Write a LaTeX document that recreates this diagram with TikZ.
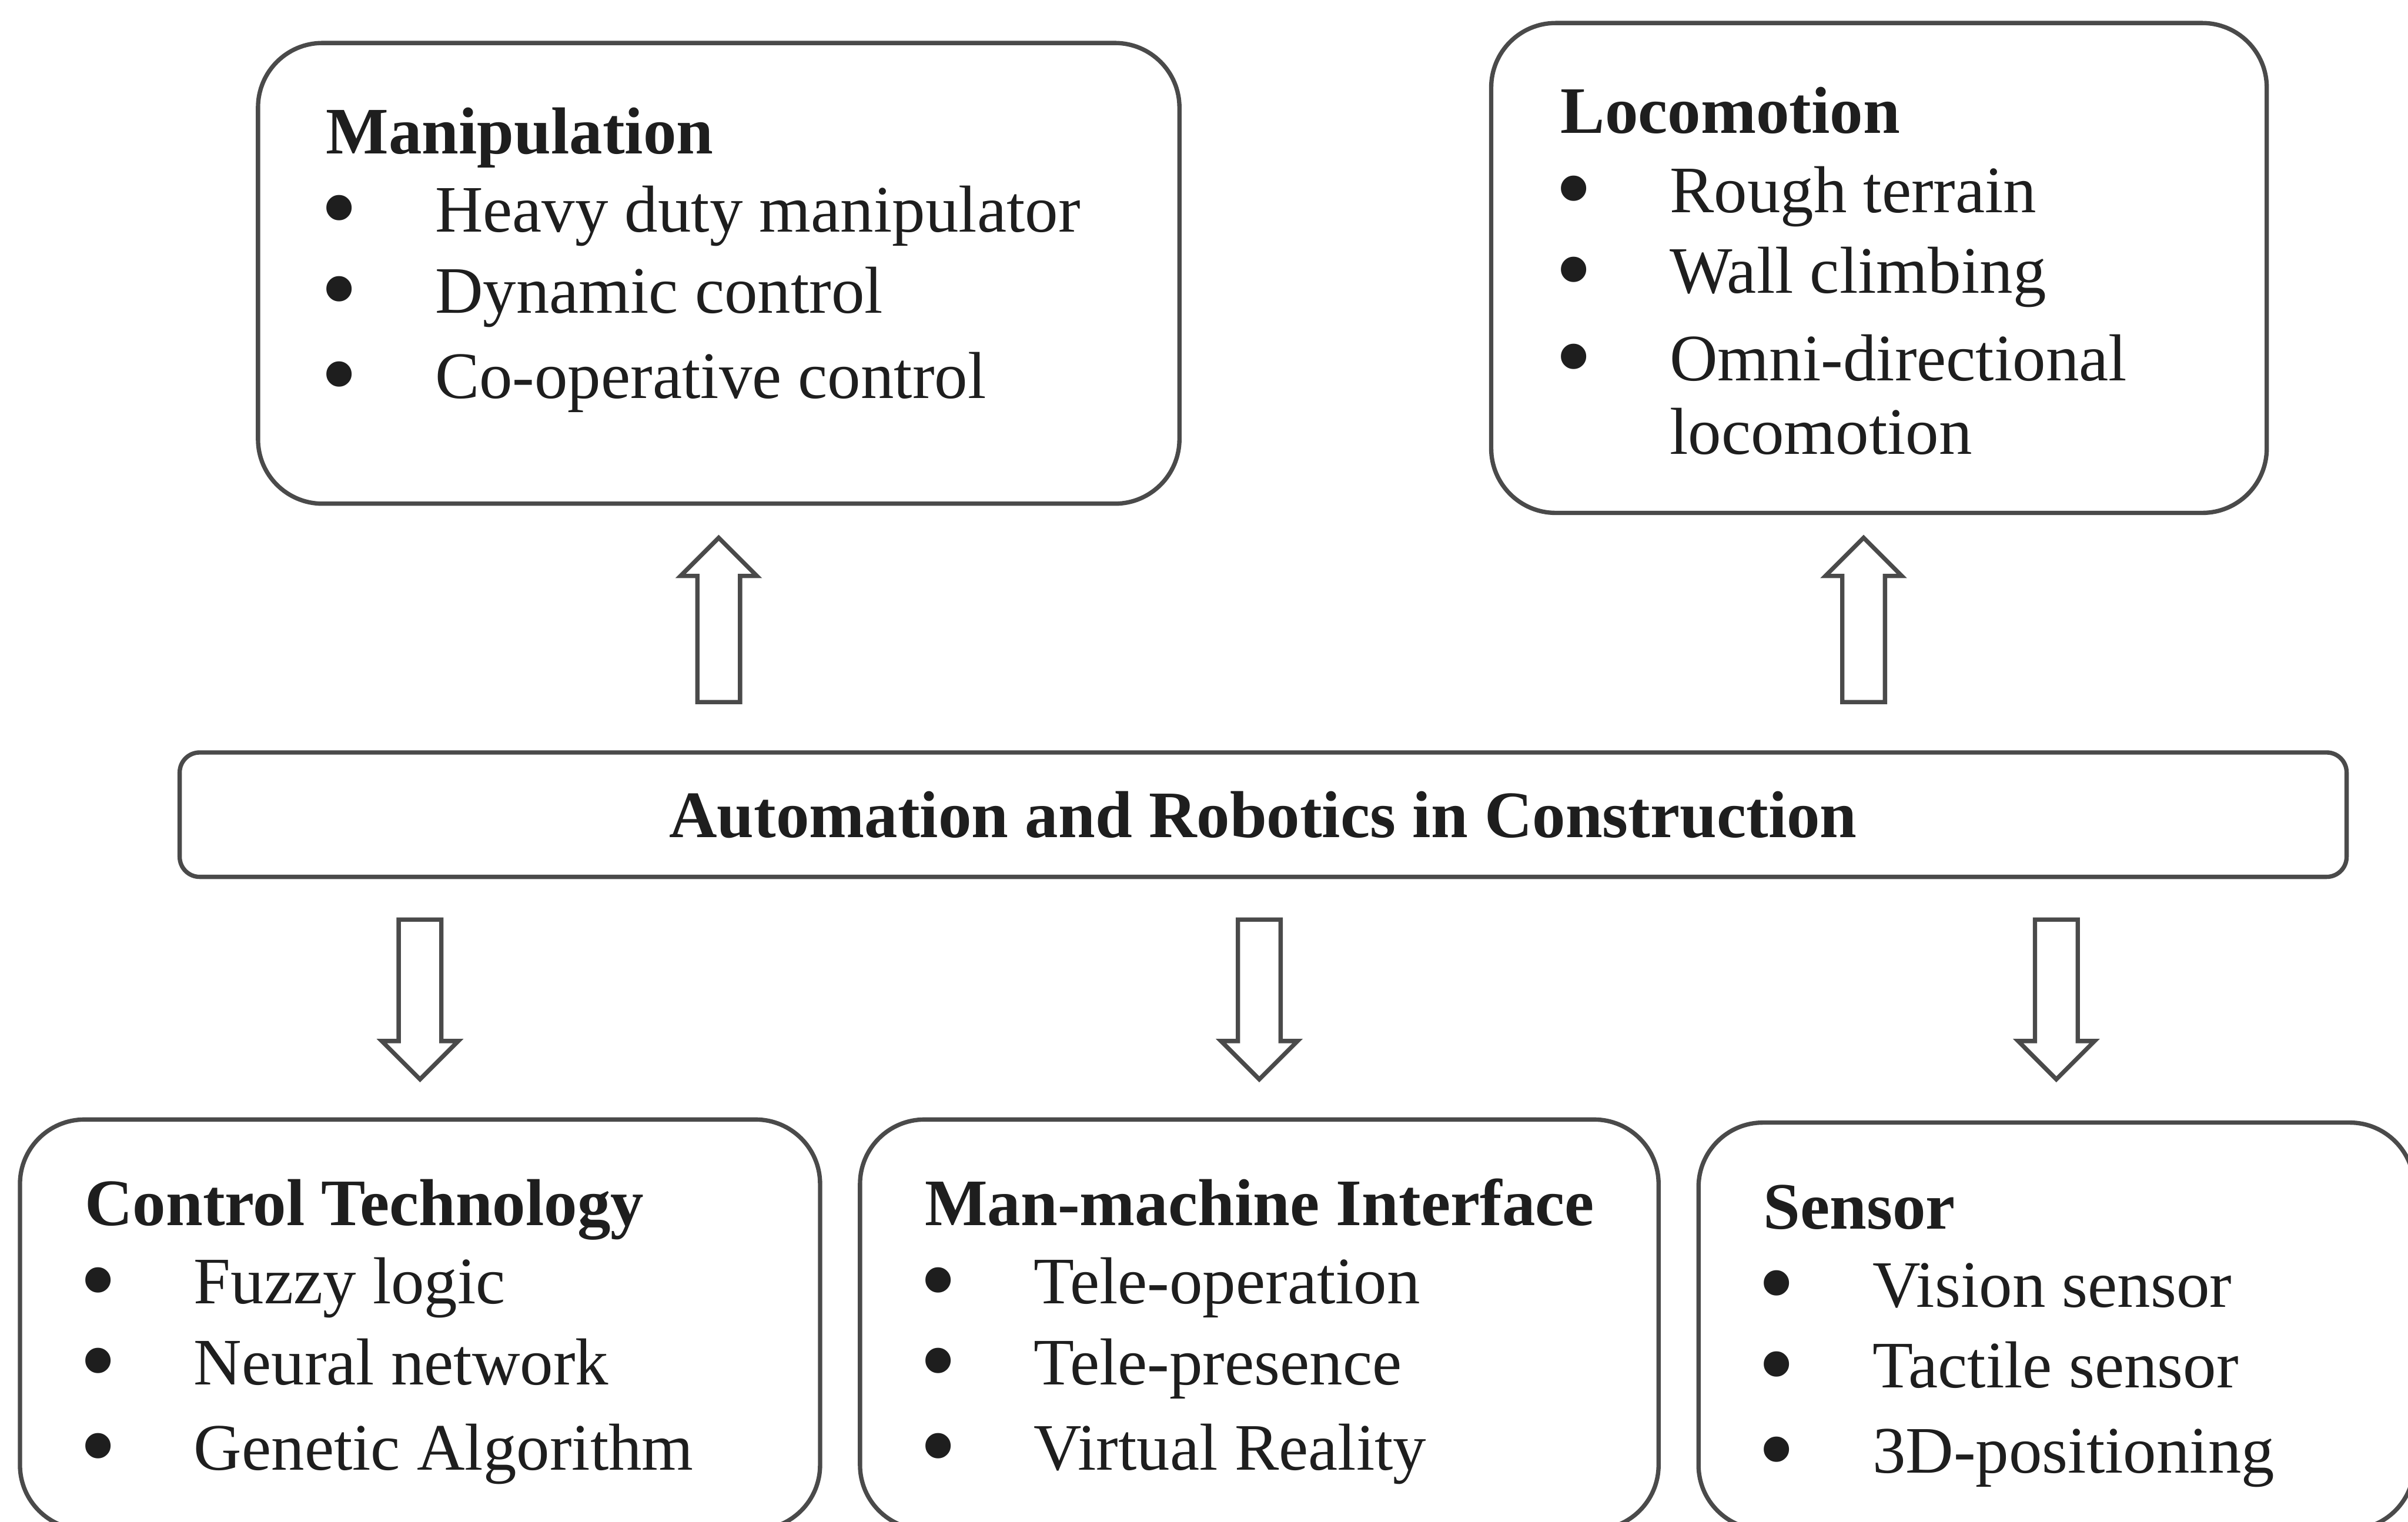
\documentclass[tikz,border=0pt]{standalone}
\usepackage{fontspec}
\setmainfont{Liberation Serif}
\usepackage{tikz}
\usetikzlibrary{positioning, calc, shapes.arrows}

\definecolor{boxline}{HTML}{4A4A4A}
\definecolor{txt}{HTML}{1E1E1E}

\newcommand{\bitem}[1]{\hspace*{-0.035cm}\makebox[0.745cm][l]{\raisebox{-0.17em}{\scalebox{1.6}{\textbullet}}}#1}

\tikzset{
  panel/.style={draw=boxline, line width=0.8pt, rounded corners=0.42cm, inner sep=0},
  listtext/.style={font=\fontsize{12.3}{15}\selectfont, text=txt, inner sep=0, anchor=base west},
  blockarrow/.style={draw=boxline, line width=0.8pt, single arrow, single arrow head extend=0.11cm,
    minimum height=1.07cm, inner sep=0.125cm, anchor=tail}
}

\begin{document}
\begin{tikzpicture}

\useasboundingbox (0,0) rectangle (15.68,-9.91);
\clip (0,0) rectangle (15.68,-9.91);

% top boxes

\node[panel, minimum width=6.00cm, minimum height=3.00cm] (manip) at (4.68, -1.78) {};
\node[panel, minimum width=5.05cm, minimum height=3.19cm] (loco) at (12.235, -1.745) {};

% middle box

\node[panel, rounded corners=0.13cm, minimum width=14.11cm, minimum height=0.81cm,
  font=\fontsize{12.3}{15}\selectfont\bfseries, text=txt] (central) at (8.225, -5.305) {Automation and Robotics in Construction};

% bottom boxes

\node[panel, minimum width=5.21cm, minimum height=2.67cm] (ctrl) at (2.735, -8.625) {};
\node[panel, minimum width=5.20cm, minimum height=2.67cm] (mmi) at (8.20, -8.625) {};
\node[panel, minimum width=4.66cm, minimum height=2.65cm] (sensor) at (13.39, -8.635) {};

% box texts

\node[listtext] (manip_text) at ([shift={(0.45,-0.735)}]manip.north west) {%
\begin{tabular}[t]{@{}l@{}}
\textbf{Manipulation}\\[-0.5pt]
\bitem{Heavy duty manipulator}\\
\bitem{Dynamic control}\\[0.8pt]
\bitem{Co-operative control}
\end{tabular}};

\node[listtext] (loco_text) at ([shift={(0.46,-0.73)}]loco.north west) {%
\begin{tabular}[t]{@{}l@{}}
\textbf{Locomotion}\\[-0.3pt]
\bitem{Rough terrain}\\
\bitem{Wall climbing}\\[1.2pt]
\bitem{Omni-directional}\\[-1.4pt]
\hspace*{0.71cm}locomotion
\end{tabular}};

\node[listtext] (ctrl_text) at ([shift={(0.43,-0.705)}]ctrl.north west) {%
\begin{tabular}[t]{@{}l@{}}
\textbf{Control Technology}\\[-0.5pt]
\bitem{Fuzzy logic}\\
\bitem{Neural network}\\[0.8pt]
\bitem{Genetic Algorithm}
\end{tabular}};

\node[listtext] (mmi_text) at ([shift={(0.43,-0.705)}]mmi.north west) {%
\begin{tabular}[t]{@{}l@{}}
\textbf{Man-machine Interface}\\[-0.5pt]
\bitem{Tele-operation}\\
\bitem{Tele-presence}\\[0.8pt]
\bitem{Virtual Reality}
\end{tabular}};

\node[listtext] (sensor_text) at ([shift={(0.43,-0.705)}]sensor.north west) {%
\begin{tabular}[t]{@{}l@{}}
\textbf{Sensor}\\[-0.5pt]
\bitem{Vision sensor}\\
\bitem{Tactile sensor}\\[0.8pt]
\bitem{3D-positioning}
\end{tabular}};

% block arrows

\node[blockarrow, shape border rotate=90] (up_manip) at ([yshift=0.3cm]central.north -| manip.south) {};
\node[blockarrow, shape border rotate=90] (up_loco) at ([shift={(-0.1,0.3)}]central.north -| loco.south) {};

\node[blockarrow, shape border rotate=270, minimum height=1.04cm] (down_ctrl) at ([yshift=-0.25cm]central.south -| ctrl.north) {};
\node[blockarrow, shape border rotate=270, minimum height=1.04cm] (down_mmi) at ([yshift=-0.25cm]central.south -| mmi.north) {};
\node[blockarrow, shape border rotate=270, minimum height=1.04cm] (down_sensor) at ([yshift=-0.25cm]central.south -| sensor.north) {};

\end{tikzpicture}
\end{document}
